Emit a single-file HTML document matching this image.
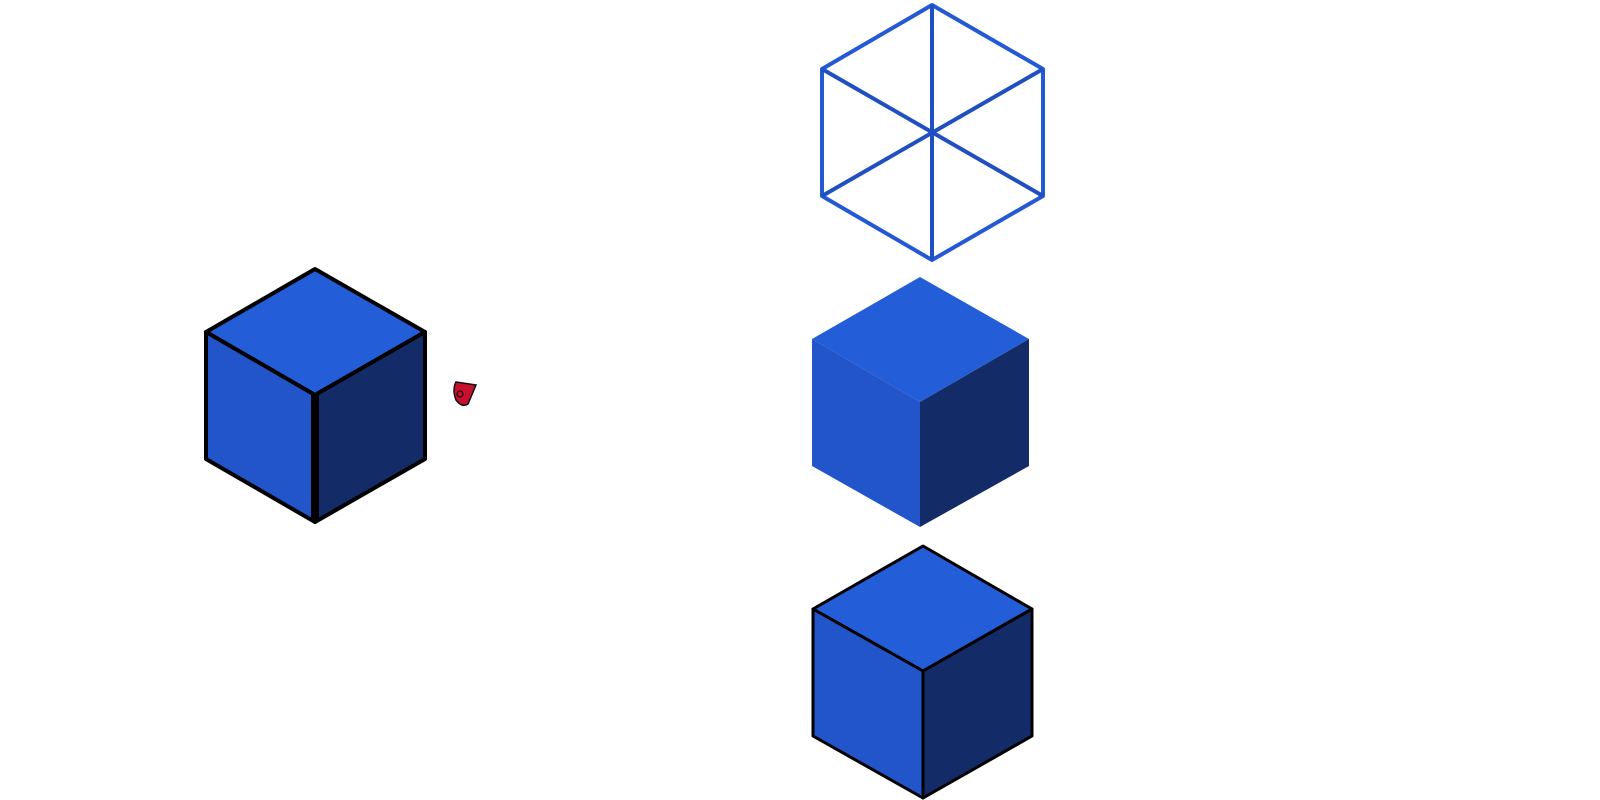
<!DOCTYPE html>
<html><head><style>body{margin:0;background:#fff}svg{display:block}</style></head>
<body>
<svg width="1600" height="800" viewBox="0 0 1600 800" xmlns="http://www.w3.org/2000/svg">
<!-- left cube -->
<g stroke="#000" stroke-width="4" stroke-linejoin="round">
<polygon points="315,269 425,332 315,395 206,332" fill="#235ed8"/>
<polygon points="206,332 315,395 315,522 206,459" fill="#2155c9"/>
<polygon points="425,332 425,459 315,522 315,395" fill="#132b66"/>
</g>
<path d="M315,395 L315,522" stroke="#000" stroke-width="8"/>
<!-- red shape -->
<g>
<path d="M456,382 L476,385 L468,404 Q462,408 456,400 Q452,390 456,382 Z" fill="#c8102e" stroke="#111" stroke-width="1.5"/>
<circle cx="460" cy="394" r="3" fill="none" stroke="#111" stroke-width="1.2"/>
</g>
<!-- hexagon wireframe -->
<g stroke="#2459d6" stroke-width="4" fill="none" stroke-linejoin="round">
<polygon points="932,5 1043,69 1043,196 932,260 822,196 822,69"/>
<path d="M932,5 L932,260 M822,69 L1043,196 M1043,69 L822,196" stroke="#1f4fc0"/>
</g>
<!-- solid cube -->
<polygon points="920,277 1029,339 920,402 812,339" fill="#235ed8"/>
<polygon points="812,339 920,402 920,527 812,466" fill="#2155c9"/>
<polygon points="1029,339 1029,466 920,527 920,402" fill="#132b66"/>
<!-- outlined cube -->
<g stroke="#000" stroke-width="3" stroke-linejoin="round">
<polygon points="923,546 1032,609 923,671 813,609" fill="#235ed8"/>
<polygon points="813,609 923,671 923,798 813,736" fill="#2155c9"/>
<polygon points="1032,609 1032,736 923,798 923,671" fill="#132b66"/>
</g>
</svg>
</body></html>
